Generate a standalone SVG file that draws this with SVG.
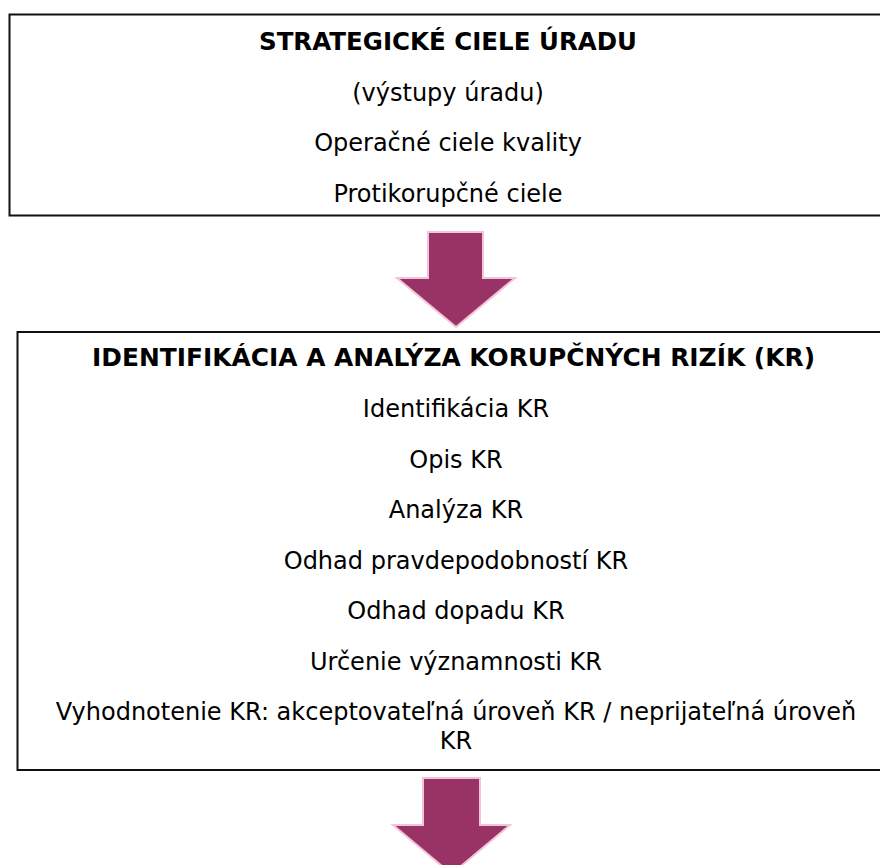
<svg xmlns="http://www.w3.org/2000/svg" width="880" height="865" viewBox="0 0 880 865">
<style>
.box{fill:#fff;stroke:#111;stroke-width:2}
.t{font-family:"DejaVu Sans","Verdana",sans-serif;font-size:24px;fill:#000;text-anchor:middle}
.b{font-weight:bold}
.arrow{fill:#993366;stroke:#F2C4DC;stroke-width:2;stroke-linejoin:miter}
</style>
<rect width="880" height="865" fill="#fff"/>
<g id="node-strategicke-ciele">
<rect class="box" x="9.5" y="14.5" width="880" height="201"/>
<text class="t b" x="448" y="50" textLength="378" lengthAdjust="spacingAndGlyphs">STRATEGICKÉ CIELE ÚRADU</text>
<text class="t" x="448" y="101">(výstupy úradu)</text>
<text class="t" x="448" y="151">Operačné ciele kvality</text>
<text class="t" x="448" y="201.5">Protikorupčné ciele</text>
</g>
<g id="node-identifikacia">
<rect class="box" x="17.5" y="332" width="880" height="438"/>
<text class="t b" x="453.5" y="366" textLength="723" lengthAdjust="spacingAndGlyphs">IDENTIFIKÁCIA A ANALÝZA KORUPČNÝCH RIZÍK (KR)</text>
<text class="t" x="456" y="417">Identifikácia KR</text>
<text class="t" x="456" y="467.5">Opis KR</text>
<text class="t" x="456" y="518">Analýza KR</text>
<text class="t" x="456" y="568.5">Odhad pravdepodobností KR</text>
<text class="t" x="456" y="619">Odhad dopadu KR</text>
<text class="t" x="456" y="669.5">Určenie významnosti KR</text>
<text class="t" x="456" y="720">Vyhodnotenie KR: akceptovateľná úroveň KR / neprijateľná úroveň</text>
<text class="t" x="456" y="749">KR</text>
</g>
<g id="connectors">
<path class="arrow" d="M428,232 H483 V278 H515 L456,327 L397,278 H428 Z"/>
<path class="arrow" d="M423,778 H480 V825 H510 L451.5,874 L393,825 H423 Z"/>
</g>
</svg>
